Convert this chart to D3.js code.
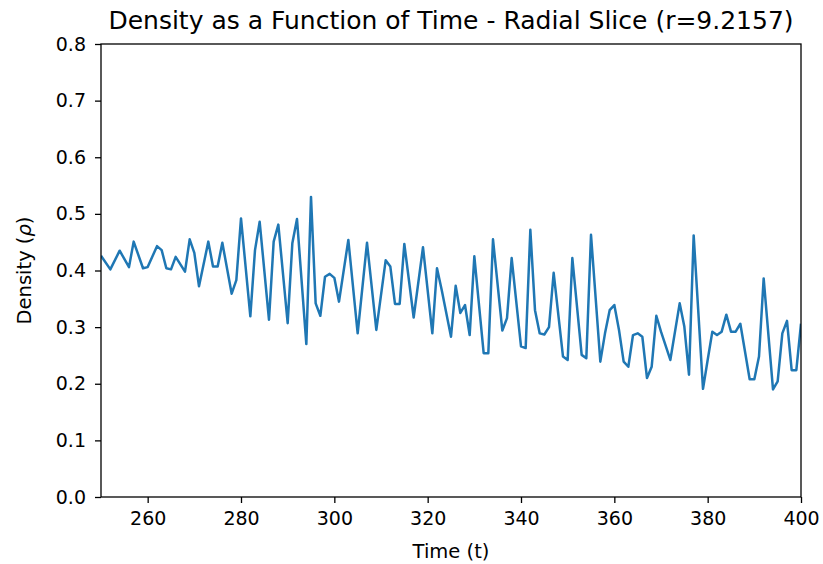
<!DOCTYPE html>
<meta charset="utf-8">
<title>Density as a Function of Time</title>
<style>
    body { margin: 0; background: #fff; }
    text { font-family: "DejaVu Sans", sans-serif; fill: #000; }
    .tick text { font-size: 19px; }
    .tick line { stroke: #000; stroke-width: 1.3px; }
    .domain { display: none; }
</style>

<svg width="823" height="564"></svg>

<script src="https://d3js.org/d3.v7.min.js"></script>
<script>

    // data
    var times = [250, 252, 254, 256, 257, 259, 260, 262, 263, 264, 265, 266, 268, 269, 270, 271, 273, 274, 275,
        276, 278, 279, 280, 282, 283, 284, 286, 287, 288, 290, 291, 292, 294, 295, 296, 297, 298, 299, 300,
        301, 303, 305, 307, 309, 311, 312, 313, 314, 315, 317, 319, 321, 322, 323, 325, 326, 327, 328, 329,
        330, 332, 333, 334, 336, 337, 338, 340, 341, 342, 343, 344, 345, 346, 347, 349, 350, 351, 353, 354,
        355, 357, 358, 359, 360, 361, 362, 363, 364, 365, 366, 367, 368, 369, 370, 372, 374, 375, 376, 377,
        379, 380, 381, 382, 383, 384, 385, 386, 387, 389, 390, 391, 392, 394, 395, 396, 397, 398, 399, 400];
    var density = [0.426, 0.402, 0.435, 0.406, 0.451, 0.404, 0.406, 0.443, 0.436, 0.404, 0.402, 0.424, 0.398, 0.455, 0.431, 0.372, 0.451, 0.407, 0.407,
        0.449, 0.359, 0.383, 0.492, 0.319, 0.436, 0.486, 0.313, 0.451, 0.481, 0.307, 0.448, 0.491, 0.270, 0.530, 0.342, 0.320, 0.389, 0.394, 0.387,
        0.345, 0.454, 0.289, 0.449, 0.295, 0.418, 0.407, 0.341, 0.341, 0.447, 0.317, 0.441, 0.289, 0.404, 0.366, 0.283, 0.373, 0.325, 0.339, 0.286,
        0.425, 0.254, 0.254, 0.455, 0.294, 0.316, 0.422, 0.266, 0.263, 0.472, 0.330, 0.289, 0.287, 0.300, 0.396, 0.248, 0.242, 0.422, 0.251, 0.245,
        0.463, 0.239, 0.289, 0.330, 0.339, 0.295, 0.239, 0.230, 0.286, 0.289, 0.283, 0.210, 0.230, 0.320, 0.292, 0.242, 0.342, 0.301, 0.216, 0.462,
        0.191, 0.242, 0.292, 0.286, 0.292, 0.322, 0.292, 0.292, 0.306, 0.208, 0.208, 0.248, 0.386, 0.190, 0.204, 0.289, 0.311, 0.224, 0.224, 0.306];
    var xTicks = [260, 280, 300, 320, 340, 360, 380, 400];
    var yTicks = [0.0, 0.1, 0.2, 0.3, 0.4, 0.5, 0.6, 0.7, 0.8];

    var svg = d3.select("svg"),
        margin = {top: 44, right: 22, bottom: 67, left: 101},
        width = +svg.attr("width") - margin.left - margin.right,
        height = +svg.attr("height") - margin.top - margin.bottom;

    var x = d3.scaleLinear().domain([250, 400]).range([0, width]);
    var y = d3.scaleLinear().domain([0, 0.8]).range([height, 0]);

    var g = svg.append("g")
        .attr("transform", "translate(" + margin.left + "," + margin.top + ")");

    g.append("defs").append("clipPath").attr("id", "clip")
        .append("rect").attr("width", width).attr("height", height);

    var line = d3.line()
        .x(function (d, i) { return x(times[i]); })
        .y(function (d) { return y(d); });

    g.append("path")
        .datum(density)
        .attr("clip-path", "url(#clip)")
        .attr("fill", "none")
        .attr("stroke", "#1f77b4")
        .attr("stroke-width", 2.5)
        .attr("stroke-linejoin", "round")
        .attr("d", line);

    g.append("g")
        .attr("transform", "translate(0," + height + ")")
        .call(d3.axisBottom(x).tickValues(xTicks).tickSize(6).tickPadding(9).tickFormat(d3.format("d")));

    g.append("g")
        .call(d3.axisLeft(y).tickValues(yTicks).tickSize(6).tickPadding(9).tickFormat(d3.format(".1f")));

    // frame
    g.append("rect")
        .attr("width", width)
        .attr("height", height)
        .attr("fill", "none")
        .attr("stroke", "#000")
        .attr("stroke-width", 1.3);

    g.append("text")
        .attr("x", width / 2)
        .attr("y", -15)
        .attr("text-anchor", "middle")
        .style("font-size", "25px")
        .text("Density as a Function of Time - Radial Slice (r=9.2157)");

    g.append("text")
        .attr("x", width / 2)
        .attr("y", height + 61)
        .attr("text-anchor", "middle")
        .style("font-size", "19.5px")
        .text("Time (t)");

    var yl = g.append("text")
        .attr("transform", "translate(-70," + (height / 2) + ") rotate(-90)")
        .attr("text-anchor", "middle")
        .style("font-size", "19.5px");
    yl.append("tspan").text("Density (");
    yl.append("tspan").style("font-style", "italic").text("ρ");
    yl.append("tspan").text(")");

</script>
